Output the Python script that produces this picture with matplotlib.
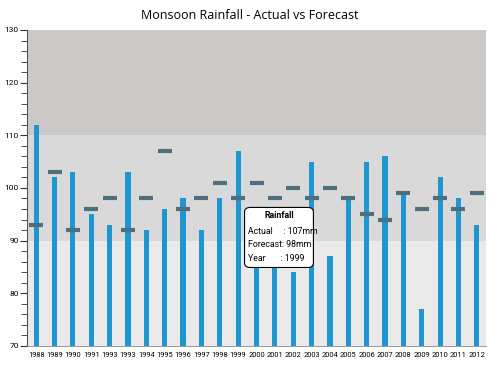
"""Monsoon rainfall, actual vs forecast."""
import numpy as np
import matplotlib
matplotlib.use('Agg')
import matplotlib.pyplot as plt
from matplotlib.ticker import MultipleLocator

years = ['1988', '1989', '1990', '1991', '1993', '1993', '1994', '1995', '1996',
         '1997', '1998', '1999', '2000', '2001', '2002', '2003', '2004', '2005',
         '2006', '2007', '2008', '2009', '2010', '2011', '2012']
actual = [112, 102, 103, 95, 93, 103, 92, 96, 98, 92, 98, 107, 88, 86, 84,
          105, 87, 98, 105, 106, 99, 77, 102, 98, 93]
forecast = [93, 103, 92, 96, 98, 92, 98, 107, 96, 98, 101, 98, 101, 98, 100,
            98, 100, 98, 95, 94, 99, 96, 98, 96, 99]
bands = [(70, 90, '#eaeaea'), (90, 110, '#d9d9d9'), (110, 130, '#ccc9c9')]
hover = 11

tick_font = ['Roboto', 'DejaVu Sans']

fig = plt.figure(figsize=(5, 3.7), dpi=100)
ax = fig.add_axes([0.054, 0.065, 0.918, 0.854])

for lo, hi, c in bands:
    ax.axhspan(lo, hi, color=c, zorder=0, lw=0)

x = np.arange(len(years))
ax.bar(x, np.array(actual) - 70, bottom=70, width=0.28, color='#1e96d2', zorder=2)
ax.plot(x, forecast, linestyle='none', marker='_', markersize=9.5,
        markeredgewidth=3, color='#4f6f7e', zorder=3)

ax.set_xlim(-0.5, len(years) - 0.5)
ax.set_ylim(70, 130)
ax.set_xticks(x)
ax.set_xticklabels(years, fontsize=5.4, family=tick_font)
ax.yaxis.set_major_locator(MultipleLocator(10))
ax.yaxis.set_minor_locator(MultipleLocator(2))
for lab in ax.get_yticklabels():
    lab.set_family(tick_font)
ax.tick_params(axis='y', which='major', length=5, labelsize=6, pad=1, color='#333333')
ax.tick_params(axis='y', which='minor', length=4, color='#333333')
ax.tick_params(axis='x', length=0, pad=4)
for s in ['top', 'right']:
    ax.spines[s].set_visible(False)
ax.spines['left'].set_color('#555555')
ax.spines['bottom'].set_color('#888888')
ax.spines['bottom'].set_linewidth(0.6)

fig.suptitle('Monsoon Rainfall - Actual vs Forecast', family=['Open Sans', 'DejaVu Sans'],
             fontsize=9, y=0.975)

# tooltip
ax.text(hover + 2.25, 94.8, 'Rainfall', ha='center', va='center', fontsize=6.3,
        fontweight='bold', family=tick_font, zorder=6)
tip = ('Actual     : %dmm\nForecast: %dmm\nYear       : %s'
       % (actual[hover], forecast[hover], years[hover]))
ax.text(hover + 0.55, 89.2, tip, ha='left', va='center', fontsize=6.3,
        family=tick_font, linespacing=1.65, zorder=6)
box = matplotlib.patches.FancyBboxPatch((hover + 0.35, 84.9), 3.75, 11.4,
                                        boxstyle='round,pad=0,rounding_size=0.3',
                                        facecolor='white', edgecolor='black', lw=0.8,
                                        zorder=5, mutation_aspect=3)
ax.add_patch(box)

fig.savefig('out.png', dpi=100)
